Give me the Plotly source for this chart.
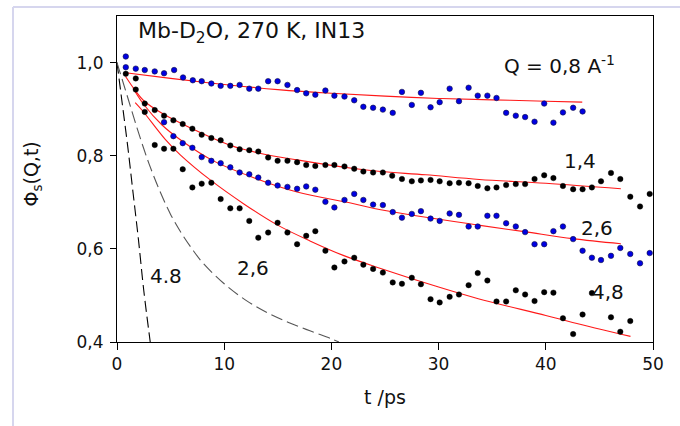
import plotly.graph_objects as go

# ---- measured Phi_s(Q,t), IN13, Mb-D2O at 270 K ----
t_q08 = [0.82, 1.75, 2.59, 3.52, 4.39, 5.33, 6.16, 7.07, 7.90, 8.80, 9.67, 10.57, 11.44, 12.34,
         13.18, 14.10, 14.98, 15.90, 16.80, 17.65, 18.50, 19.44, 20.28, 21.22, 22.13, 22.98,
         23.89, 24.80, 25.72, 26.58, 27.50, 28.35, 29.25, 30.10, 31.03, 31.90, 32.80, 33.65,
         34.55, 35.40, 36.30, 37.20, 38.07, 38.95, 39.85, 40.71, 41.60, 42.55, 43.43]
phi_q08 = [0.990, 0.987, 0.984, 0.981, 0.977, 0.984, 0.968, 0.962, 0.960, 0.955, 0.950, 0.950,
           0.952, 0.944, 0.944, 0.960, 0.960, 0.952, 0.941, 0.934, 0.931, 0.940, 0.929, 0.927,
           0.919, 0.905, 0.903, 0.899, 0.892, 0.937, 0.909, 0.935, 0.904, 0.915, 0.944, 0.917,
           0.946, 0.929, 0.929, 0.924, 0.892, 0.886, 0.883, 0.873, 0.912, 0.871, 0.893, 0.903,
           0.895]

t_q14 = [0.82, 1.75, 2.59, 3.52, 4.39, 5.26, 6.13, 7.03, 7.90, 8.80, 9.67, 10.57, 11.44, 12.34,
         13.18, 14.10, 14.98, 15.90, 16.80, 17.65, 18.50, 19.44, 20.28, 21.22, 22.13, 22.98,
         23.89, 24.80, 25.67, 26.58, 27.50, 28.35, 29.25, 30.10, 31.03, 31.90, 32.80, 33.65,
         34.55, 35.40, 36.30, 37.20, 38.07, 38.95, 39.85, 40.71, 41.60, 42.55, 43.43, 44.30,
         45.15, 46.08, 46.95, 47.88, 48.79, 49.69]
phi_q14 = [0.976, 0.942, 0.912, 0.898, 0.886, 0.876, 0.868, 0.858, 0.845, 0.838, 0.833, 0.822,
           0.814, 0.812, 0.809, 0.796, 0.789, 0.789, 0.786, 0.780, 0.778, 0.780, 0.780, 0.777,
           0.772, 0.766, 0.764, 0.764, 0.757, 0.750, 0.745, 0.747, 0.748, 0.745, 0.741, 0.742,
           0.741, 0.735, 0.730, 0.732, 0.737, 0.739, 0.739, 0.750, 0.758, 0.752, 0.735, 0.728,
           0.728, 0.732, 0.745, 0.763, 0.750, 0.712, 0.691, 0.718]

t_q26 = [0.82, 4.39, 5.26, 6.13, 7.03, 7.90, 8.80, 9.67, 10.57, 11.44, 12.34, 13.18, 14.10,
         14.98, 15.90, 16.80, 17.65, 18.50, 19.44, 20.28, 21.22, 22.13, 22.98, 23.89, 24.80,
         25.72, 26.58, 27.50, 28.35, 29.25, 30.10, 31.03, 31.90, 32.80, 33.65, 34.55, 35.40,
         36.30, 37.20, 38.07, 38.95, 39.85, 40.71, 41.60, 42.55, 43.43, 44.30, 45.15, 46.08,
         46.95, 47.88, 48.79, 49.69]
phi_q26 = [1.013, 0.872, 0.842, 0.827, 0.817, 0.797, 0.789, 0.784, 0.775, 0.764, 0.760, 0.753,
           0.742, 0.736, 0.733, 0.729, 0.734, 0.727, 0.701, 0.689, 0.705, 0.718, 0.705, 0.695,
           0.694, 0.679, 0.667, 0.675, 0.681, 0.665, 0.660, 0.676, 0.673, 0.648, 0.648, 0.671,
           0.671, 0.655, 0.648, 0.636, 0.610, 0.610, 0.638, 0.648, 0.621, 0.596, 0.581, 0.576,
           0.585, 0.602, 0.589, 0.569, 0.591]

t_q48 = [1.75, 2.59, 3.52, 4.39, 5.26, 6.13, 7.03, 7.90, 8.80, 9.67, 10.57, 11.44, 12.34, 13.18,
         14.10, 14.98, 15.90, 16.80, 17.65, 18.50, 19.44, 20.28, 21.22, 22.13, 22.98, 23.89,
         24.80, 25.72, 26.58, 27.50, 28.35, 29.25, 30.10, 31.03, 31.90, 32.80, 33.65, 34.55,
         35.40, 36.30, 37.20, 38.07, 38.95, 39.85, 40.71, 41.60, 42.55, 43.43, 44.30, 46.08,
         46.95, 47.88]
phi_q48 = [0.966, 0.894, 0.823, 0.815, 0.815, 0.771, 0.732, 0.740, 0.742, 0.707, 0.687, 0.687,
           0.660, 0.624, 0.635, 0.656, 0.635, 0.610, 0.628, 0.638, 0.596, 0.560, 0.573, 0.581,
           0.566, 0.557, 0.549, 0.528, 0.525, 0.538, 0.524, 0.492, 0.485, 0.497, 0.502, 0.522,
           0.548, 0.532, 0.487, 0.487, 0.511, 0.502, 0.488, 0.507, 0.506, 0.451, 0.417, 0.459,
           0.505, 0.453, 0.422, 0.445]

# ---- fitted curves (red) ----
t_fit08 = [0.8, 5, 10, 15, 20, 25, 30, 35, 40, 43.4]
phi_fit08 = [0.978, 0.966, 0.953, 0.942, 0.934, 0.928, 0.923, 0.920, 0.917, 0.915]

t_fit14 = [0.8, 1.7, 2.5, 4.2, 7.0, 10.6, 13.2, 16.8, 21.9, 24.6, 28.8, 33.8, 40, 47]
phi_fit14 = [0.970, 0.940, 0.918, 0.891, 0.858, 0.822, 0.806, 0.791, 0.773, 0.766, 0.759,
             0.749, 0.741, 0.729]

t_fit26 = [1.5, 2.5, 4.2, 6.1, 8.9, 13.2, 16.8, 21.9, 24.6, 33.7, 38, 42.5, 47]
phi_fit26 = [0.945, 0.910, 0.866, 0.831, 0.790, 0.749, 0.722, 0.698, 0.684, 0.651, 0.637,
             0.622, 0.611]

t_fit48 = [1.7, 2.4, 4.5, 5.9, 8.7, 11.8, 14.9, 18, 21.1, 24.6, 30, 33.7, 40, 42.5, 47.9]
phi_fit48 = [0.914, 0.896, 0.835, 0.802, 0.748, 0.697, 0.652, 0.617, 0.586, 0.558, 0.518,
             0.493, 0.457, 0.442, 0.412]

# ---- model curves (dashed) ----
t_mod48 = [0, 0.5, 1.0, 1.5, 2.0, 2.5, 3.1]
phi_mod48 = [1.0, 0.91, 0.82, 0.72, 0.62, 0.51, 0.40]

t_mod26 = [0, 1, 2, 3, 4, 5, 6, 7, 8, 10, 12, 14, 16, 18, 20, 20.7]
phi_mod26 = [1.0, 0.925, 0.850, 0.782, 0.724, 0.674, 0.634, 0.600, 0.570, 0.525, 0.490, 0.463,
             0.442, 0.424, 0.407, 0.400]

x_ticks = [0, 10, 20, 30, 40, 50]
x_ticktext = ["0", "10", "20", "30", "40", "50"]
y_ticks = [0.4, 0.6, 0.8, 1.0]
y_ticktext = ["0,4", "0,6", "0,8", "1,0"]

FONT = "DejaVu Sans"
BLUE = "rgb(0,0,225)"
RED = "rgb(255,25,25)"

fig = go.Figure()

# dashed model curves
fig.add_trace(go.Scatter(x=t_mod48, y=phi_mod48, mode="lines", line_shape="spline",
                         line=dict(color="black", width=1.1, dash="11px,5px")))
fig.add_trace(go.Scatter(x=t_mod26, y=phi_mod26, mode="lines", line_shape="spline",
                         line=dict(color="#555555", width=1.1, dash="12px,5px")))

# fits
for tx, py in [(t_fit08, phi_fit08), (t_fit14, phi_fit14), (t_fit26, phi_fit26), (t_fit48, phi_fit48)]:
    fig.add_trace(go.Scatter(x=tx, y=py, mode="lines", line_shape="spline",
                             line=dict(color=RED, width=1.1)))

# measured points
blue_marker = dict(color=BLUE, size=5.5, line=dict(color="#101040", width=0.6))
black_marker = dict(color="black", size=5.5, line=dict(color="black", width=0.4))
fig.add_trace(go.Scatter(x=t_q08, y=phi_q08, mode="markers", marker=blue_marker))
fig.add_trace(go.Scatter(x=t_q26, y=phi_q26, mode="markers", marker=blue_marker))
fig.add_trace(go.Scatter(x=t_q14, y=phi_q14, mode="markers", marker=black_marker))
fig.add_trace(go.Scatter(x=t_q48, y=phi_q48, mode="markers", marker=black_marker))

txt = dict(family=FONT, size=20, color="#111111")
annotations = [
    dict(x=1.8, y=1.064, text="Mb-D<sub>2</sub>O, 270 K, IN13", xanchor="left", yanchor="middle",
         font=dict(family=FONT, size=22, color="#111111")),
    dict(x=41.3, y=0.994, text="Q = 0,8 A<sup>-1</sup>", xanchor="center", yanchor="middle", font=txt),
    dict(x=43.2, y=0.788, text="1,4", xanchor="center", yanchor="middle", font=txt),
    dict(x=44.8, y=0.644, text="2,6", xanchor="center", yanchor="middle", font=txt),
    dict(x=45.8, y=0.507, text="4,8", xanchor="center", yanchor="middle", font=txt),
    dict(x=4.6, y=0.541, text="4.8", xanchor="center", yanchor="middle", font=txt),
    dict(x=12.7, y=0.558, text="2,6", xanchor="center", yanchor="middle", font=txt),
    # axis titles
    dict(xref="paper", yref="paper", x=0.5, y=-0.169, text="t /ps", xanchor="center",
         yanchor="middle", font=dict(family=FONT, size=19, color="#111111")),
    dict(xref="paper", yref="paper", x=-0.158, y=0.515, text="Φ<sub>s</sub>(Q,t)", textangle=-90,
         xanchor="center", yanchor="middle", font=dict(family=FONT, size=19, color="#111111")),
]
for a in annotations:
    a.setdefault("showarrow", False)

# light frame around the whole figure
frame_col = "rgb(214,214,238)"
shapes = [
    dict(type="line", xref="paper", yref="paper", x0=-0.194, x1=1.1, y0=1.0276, y1=1.0276,
         line=dict(color=frame_col, width=2)),
    dict(type="line", xref="paper", yref="paper", x0=-0.194, x1=-0.194, y0=1.0276, y1=-0.3,
         line=dict(color=frame_col, width=2)),
]

fig.update_layout(
    width=680, height=426,
    margin=dict(l=117, r=27, t=16, b=84),
    paper_bgcolor="white", plot_bgcolor="white",
    showlegend=False,
    annotations=annotations,
    shapes=shapes,
    font=dict(family=FONT, color="#111111"),
)
fig.update_xaxes(range=[0, 50], tickvals=x_ticks, ticktext=x_ticktext, ticks="outside",
                 ticklen=7, tickwidth=1, tickcolor="black", showline=True, linecolor="black",
                 linewidth=1, mirror=True, showgrid=False, zeroline=False,
                 tickfont=dict(family=FONT, size=17, color="#111111"))
fig.update_yaxes(range=[0.4, 1.1], tickvals=y_ticks, ticktext=y_ticktext, ticks="outside",
                 ticklen=6, tickwidth=1, tickcolor="black", showline=True, linecolor="black",
                 linewidth=1, mirror=True, showgrid=False, zeroline=False,
                 ticklabelstandoff=3,
                 tickfont=dict(family=FONT, size=17, color="#111111"))

fig.write_html("out.html")
